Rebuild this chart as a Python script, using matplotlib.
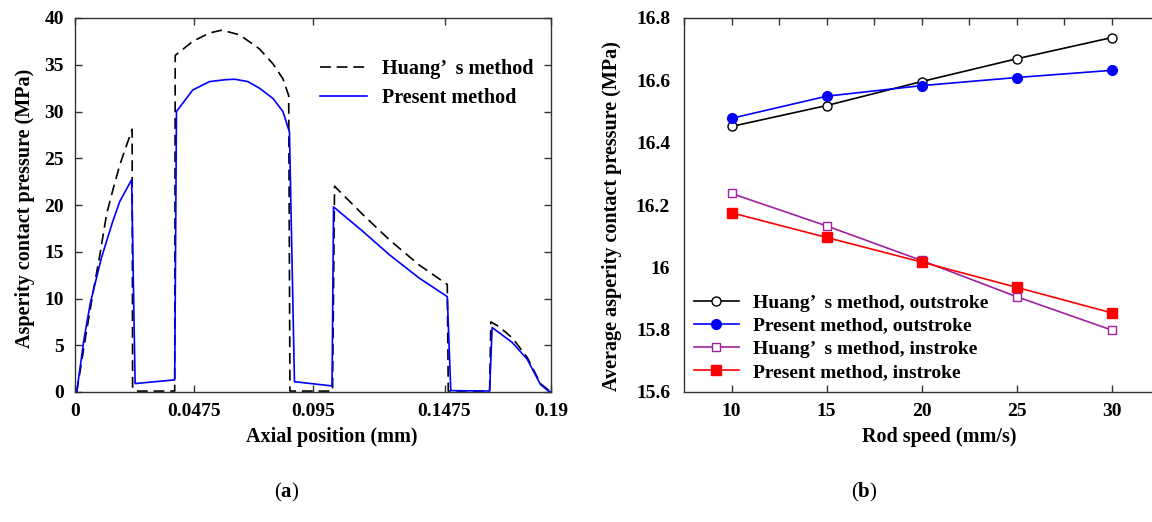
import matplotlib
matplotlib.use("Agg")
import matplotlib.pyplot as plt
from matplotlib.ticker import MultipleLocator, FixedLocator

plt.rcParams['font.family'] = ['Liberation Serif', 'DejaVu Serif']
plt.rcParams['mathtext.fontset'] = 'custom'
plt.rcParams['mathtext.bf'] = 'Liberation Serif:bold'
plt.rcParams['mathtext.rm'] = 'Liberation Serif'

# ---------------- (a) data ----------------
huang_x = [0.0007, 0.0020, 0.0046, 0.0073, 0.00995, 0.0126, 0.0153, 0.0179, 0.0206, 0.0228,
           0.0230, 0.0243, 0.0398, 0.0400, 0.0470, 0.0537, 0.0586, 0.0657, 0.0736, 0.0790,
           0.0830, 0.0853, 0.0858, 0.1028, 0.1036, 0.1148, 0.1254, 0.1373, 0.1486, 0.1490,
           0.1655, 0.1660, 0.1692, 0.1745, 0.1805, 0.1858, 0.1890, 0.1900]
huang_y = [0.0, 2.2, 6.5, 10.8, 14.7, 19.0, 21.8, 24.3, 26.4, 28.1,
           0.4, 0.1, 0.1, 36.0, 37.5, 38.4, 38.7, 38.2, 36.7, 35.1,
           33.5, 31.7, 0.1, 0.1, 22.0, 19.0, 16.3, 13.6, 11.5, 0.1,
           0.1, 7.5, 7.0, 5.8, 3.7, 0.9, 0.2, 0.0]

present_x = [0.0007, 0.0035, 0.0061, 0.0105, 0.0149, 0.0179, 0.0226, 0.0240, 0.0398, 0.0405,
             0.0470, 0.0537, 0.0600, 0.0638, 0.0690, 0.0736, 0.0790, 0.0830, 0.0856, 0.0876,
             0.1026, 0.1032, 0.1148, 0.1254, 0.1373, 0.1486, 0.1500, 0.1655, 0.1665, 0.1745,
             0.1805, 0.1858, 0.1890, 0.1900]
present_y = [0.0, 5.5, 9.5, 14.3, 18.1, 20.4, 22.7, 0.9, 1.3, 30.0,
             32.3, 33.2, 33.4, 33.45, 33.2, 32.5, 31.4, 30.0, 27.8, 1.1,
             0.65, 19.8, 17.2, 14.7, 12.2, 10.2, 0.15, 0.1, 6.9, 5.3,
             3.5, 0.8, 0.1, 0.0]

a_xticks = [0, 0.0475, 0.095, 0.1475, 0.19]
a_xticklabels = ['0', '0.0475', '0.095', '0.1475', '0.19']

# ---------------- (b) data ----------------
rod_speed = [10, 15, 20, 25, 30]
huang_out = [16.452, 16.519, 16.596, 16.669, 16.737]
present_out = [16.478, 16.549, 16.583, 16.609, 16.632]
huang_in = [16.237, 16.133, 16.022, 15.906, 15.799]
present_in = [16.175, 16.096, 16.017, 15.936, 15.854]
b_yticks = [15.6, 15.8, 16.0, 16.2, 16.4, 16.6, 16.8]
b_yticklabels = ['15.6', '15.8', '16', '16.2', '16.4', '16.6', '16.8']

W, H = 1152, 522
fig = plt.figure(figsize=(W / 100, H / 100), dpi=100)

def fx(px):
    return px / W

def fy(py):
    return 1 - py / H

tick_fs = 14
lab_fs = 14.5
spine_c = '#333333'

# ---------------- panel (a) ----------------
ax1 = fig.add_axes([fx(75), fy(392), (551 - 75) / W, (392 - 18) / H])
ax1.plot(huang_x, huang_y, color='black', linestyle=(0, (6.5, 3.5)), linewidth=1.2,
         label='Huang\u2019  s method')
ax1.plot(present_x, present_y, color='blue', linewidth=1.2, label='Present method')
ax1.set_xlim(0, 0.19)
ax1.set_ylim(0, 40)
ax1.xaxis.set_major_locator(FixedLocator(a_xticks))
ax1.set_xticklabels(a_xticklabels)
ax1.yaxis.set_major_locator(MultipleLocator(5))
ax1.tick_params(direction='in', top=True, right=True, length=5, width=1, labelsize=tick_fs,
                color=spine_c, pad=8)
for lbl in ax1.get_xticklabels() + ax1.get_yticklabels():
    lbl.set_fontweight('bold')
ax1.set_xlabel('Axial position (mm)', fontsize=lab_fs, fontweight='bold')
ax1.set_ylabel('Asperity contact pressure (MPa)', fontsize=lab_fs, fontweight='bold')
ax1.xaxis.set_label_coords((332 - 75) / 476, (392 - 427) / 374)
ax1.yaxis.set_label_coords((35 - 75) / 476, (392 - 208) / 374)
for s in ax1.spines.values():
    s.set_color(spine_c)
    s.set_linewidth(1.0)
ax1.legend(loc='upper left', bbox_to_anchor=(fx(320), fy(59)), bbox_transform=fig.transFigure,
           frameon=False, prop=dict(weight='bold', size=14.5), handlelength=2.35,
           handletextpad=0.75, labelspacing=0.45, borderpad=0, borderaxespad=0)

# ---------------- panel (b) ----------------
ax2 = fig.add_axes([fx(684), fy(392), (1159 - 684) / W, (392 - 18) / H])
ax2.plot(rod_speed, huang_out, color='black', marker='o', markerfacecolor='white',
         markeredgecolor='black', markersize=6.5, linewidth=1.2,
         label='Huang\u2019  s method, outstroke')
ax2.plot(rod_speed, present_out, color='blue', marker='o', markerfacecolor='blue',
         markeredgecolor='blue', markersize=7, linewidth=1.2,
         label='Present method, outstroke')
ax2.plot(rod_speed, huang_in, color='#a020a0', marker='s', markerfacecolor='white',
         markeredgecolor='#a020a0', markersize=6, linewidth=1.2,
         label='Huang\u2019  s method, instroke')
ax2.plot(rod_speed, present_in, color='red', marker='s', markerfacecolor='red',
         markeredgecolor='red', markersize=6.5, linewidth=1.2,
         label='Present method, instroke')
ax2.set_xlim(7.5, 32.5)
ax2.set_ylim(15.6, 16.8)
ax2.xaxis.set_major_locator(FixedLocator(rod_speed))
ax2.set_yticks(b_yticks)
ax2.set_yticklabels(b_yticklabels)
ax2.tick_params(axis='x', direction='in', length=5, width=1, labelsize=tick_fs,
                color=spine_c, pad=8)
ax2.tick_params(axis='y', direction='in', length=0, labelsize=tick_fs, pad=10)
for lbl in ax2.get_xticklabels() + ax2.get_yticklabels():
    lbl.set_fontweight('bold')
top = ax2.secondary_xaxis('top')
top.xaxis.set_major_locator(MultipleLocator(2.5))
top.tick_params(direction='in', length=5, width=1, labeltop=False, color=spine_c)
top.spines['top'].set_color(spine_c)
ax2.set_xlabel('Rod speed (mm/s)', fontsize=lab_fs, fontweight='bold')
ax2.set_ylabel('Average asperity contact pressure (MPa)', fontsize=lab_fs, fontweight='bold')
ax2.xaxis.set_label_coords((939 - 684) / 475, (392 - 427) / 374)
ax2.yaxis.set_label_coords((622 - 684) / 475, (392 - 216) / 374)
for s in ax2.spines.values():
    s.set_color(spine_c)
    s.set_linewidth(1.0)
ax2.legend(loc='upper left', bbox_to_anchor=(fx(694), fy(294)), bbox_transform=fig.transFigure,
           frameon=False, prop=dict(weight='bold', size=14), handlelength=2.3,
           handletextpad=0.72, labelspacing=0.28, borderpad=0, borderaxespad=0)

# captions
fig.text(fx(287), fy(492), r'($\mathbf{a}$)', ha='center', va='center', fontsize=15)
fig.text(fx(864), fy(492), r'($\mathbf{b}$)', ha='center', va='center', fontsize=15)

fig.savefig('out.png', dpi=100)
